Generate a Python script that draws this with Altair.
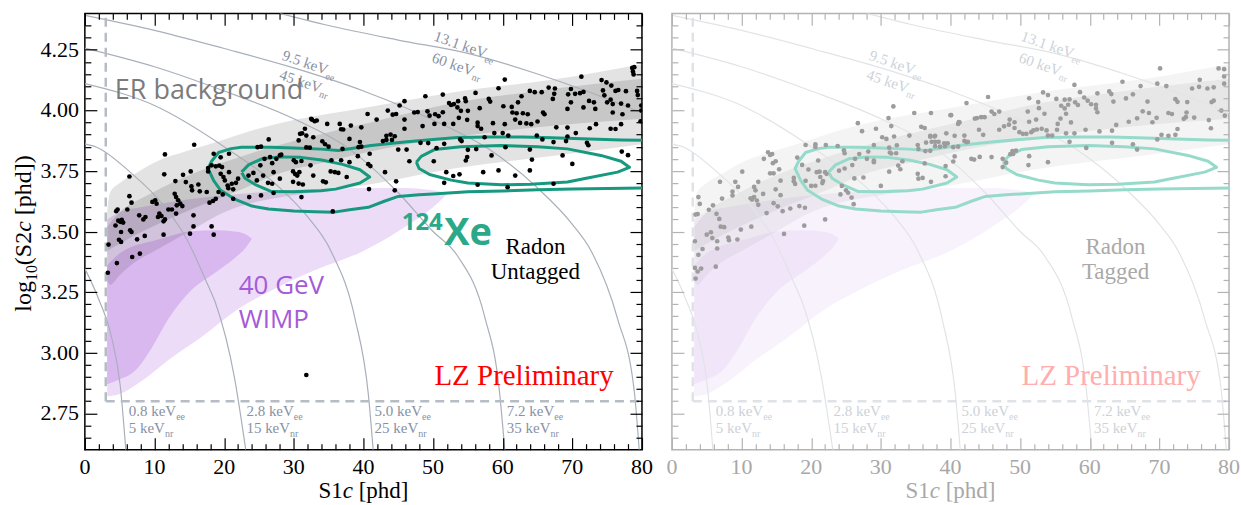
import altair as alt
import pandas as pd

SERIF = "Liberation Serif"
SANS = "Open Sans"
W, H = 558, 437

X_SCALE = alt.Scale(domain=[0, 80], nice=False, zero=False)
Y_SCALE = alt.Scale(domain=[2.6, 4.4], nice=False, zero=False)

X_MAJOR = [0, 10, 20, 30, 40, 50, 60, 70, 80]
X_MINOR = [v for v in range(2, 80, 2) if v % 10]
Y_MAJOR = [2.75, 3.0, 3.25, 3.5, 3.75, 4.0, 4.25]
Y_MINOR = [round(2.6 + 0.05 * i, 2) for i in range(1, 36)]
Y_MINOR = [v for v in Y_MINOR if v not in Y_MAJOR]

# (S1c [phd], log10 S2c [phd]) of events without a radon tag
UNTAGGED_EVENTS = [
    (15.7, 3.858), (11.5, 3.818), (26.4, 3.880), (24.8, 3.848), (25.3, 3.850), (11.4, 3.736),
    (6.4, 3.727), (14.1, 3.734), (15.2, 3.748), (13.0, 3.708), (14.5, 3.704), (15.3, 3.686),
    (16.3, 3.694), (15.4, 3.670), (16.5, 3.666), (17.5, 3.663), (12.9, 3.656), (13.1, 3.642),
    (17.7, 3.762), (18.2, 3.773), (18.8, 3.769), (19.3, 3.772), (19.7, 3.766), (18.5, 3.821),
    (19.5, 3.806), (20.7, 3.821), (17.7, 3.748), (19.5, 3.738), (19.9, 3.725), (20.7, 3.745),
    (20.1, 3.711), (20.5, 3.690), (21.1, 3.697), (21.7, 3.701), (22.0, 3.718), (21.3, 3.674),
    (20.6, 3.679), (19.2, 3.663), (19.8, 3.653), (18.8, 3.635), (18.4, 3.626), (17.9, 3.619),
    (21.3, 3.635), (23.6, 3.642), (25.3, 3.649), (27.1, 3.659), (23.5, 3.731), (24.2, 3.742),
    (24.7, 3.711), (25.6, 3.731), (26.3, 3.701), (26.9, 3.697), (26.6, 3.807), (25.2, 3.773),
    (25.8, 3.800), (26.9, 3.782), (28.0, 3.814), (10.1, 3.629), (10.3, 3.615), (9.7, 3.622),
    (13.2, 3.608), (13.4, 3.629), (13.7, 3.615), (14.0, 3.605), (12.0, 3.591), (12.5, 3.591),
    (13.1, 3.574), (10.7, 3.574), (11.0, 3.564), (11.5, 3.550), (11.3, 3.542), (10.5, 3.560),
    (7.8, 3.567), (8.4, 3.550), (8.7, 3.560), (6.4, 3.646), (6.7, 3.619), (6.1, 3.591),
    (4.7, 3.591), (4.5, 3.584), (4.8, 3.545), (5.3, 3.548), (5.5, 3.537), (5.1, 3.540),
    (4.4, 3.525), (6.5, 3.505), (6.7, 3.498), (5.2, 3.498), (4.9, 3.466), (5.2, 3.457),
    (7.5, 3.468), (8.6, 3.482), (3.4, 3.446), (11.3, 3.487), (15.1, 3.491), (15.6, 3.521),
    (15.6, 3.567), (18.2, 3.521), (18.5, 3.487), (7.9, 3.409), (6.8, 3.395), (4.6, 3.370),
    (3.3, 3.330), (31.8, 2.908), (32.5, 3.965), (33.3, 3.958), (30.9, 3.903),
    (48.9, 4.058), (51.4, 4.065), (45.9, 4.038), (45.2, 4.020), (40.6, 3.985), (43.5, 3.999),
    (44.2, 3.982), (44.7, 3.985), (47.3, 3.991), (47.8, 3.993), (49.2, 3.996), (49.5, 3.978),
    (50.3, 3.984), (50.8, 3.976), (51.4, 3.992), (52.3, 4.030), (52.6, 4.022), (53.0, 4.026),
    (32.6, 3.962), (33.0, 3.955), (34.8, 3.944), (36.6, 3.944), (38.2, 3.937), (36.8, 3.922),
    (37.1, 3.921), (39.7, 3.930), (41.9, 3.962), (45.9, 3.962), (45.9, 3.924), (48.5, 3.935),
    (50.2, 3.944), (51.6, 3.944), (52.9, 3.944), (31.6, 3.924), (31.2, 3.905), (31.8, 3.896),
    (32.8, 3.889), (30.7, 3.876), (31.8, 3.847), (32.3, 3.846), (34.1, 3.872), (34.5, 3.860),
    (35.0, 3.850), (38.0, 3.882), (39.5, 3.869), (39.7, 3.850), (37.0, 3.841), (39.3, 3.848),
    (43.3, 3.895), (43.9, 3.900), (44.5, 3.893), (42.8, 3.873), (43.3, 3.878), (44.1, 3.878),
    (45.0, 3.838), (46.2, 3.838), (48.2, 3.866), (49.3, 3.865), (50.5, 3.844), (51.6, 3.862),
    (40.9, 3.821), (39.2, 3.811), (36.8, 3.794), (35.4, 3.794), (46.6, 3.790), (50.1, 3.790),
    (28.2, 3.817), (27.5, 3.800), (30.0, 3.794), (30.3, 3.786), (31.1, 3.791), (32.4, 3.773),
    (32.8, 3.731), (29.9, 3.748), (30.2, 3.737), (30.5, 3.731), (30.8, 3.745), (29.9, 3.705),
    (30.7, 3.698), (31.3, 3.694), (34.2, 3.707), (34.6, 3.703), (35.3, 3.748), (35.9, 3.745),
    (36.4, 3.742), (37.6, 3.725), (38.0, 3.786), (40.7, 3.778), (41.0, 3.770), (43.1, 3.745),
    (44.7, 3.707), (44.5, 3.670), (40.8, 3.675), (31.1, 3.642), (28.0, 3.718), (27.1, 3.745),
    (51.9, 3.745), (51.6, 3.701), (52.9, 3.729), (35.6, 3.583),
    (60.3, 4.127), (71.3, 4.139), (59.4, 4.091), (56.1, 4.072), (74.2, 4.125), (74.9, 4.115),
    (75.6, 4.102), (78.6, 4.175), (78.8, 4.148), (63.9, 4.080), (64.6, 4.075), (65.6, 4.075),
    (66.6, 4.094), (67.5, 4.090), (69.8, 4.088), (67.4, 4.068), (69.4, 4.066), (70.4, 4.068),
    (71.1, 4.071), (71.6, 4.076), (74.4, 4.082), (74.6, 4.062), (76.2, 4.080), (76.6, 4.084),
    (77.7, 4.079), (79.3, 4.080), (79.4, 4.063), (53.6, 4.038), (54.6, 4.049), (54.7, 4.038),
    (58.0, 4.047), (58.2, 4.036), (62.7, 4.058), (67.2, 4.047), (69.8, 4.033), (72.4, 4.039),
    (73.1, 4.033), (75.0, 4.033), (75.5, 4.044), (75.8, 4.026), (77.0, 4.028), (78.0, 4.020),
    (53.5, 4.012), (54.0, 3.998), (55.0, 3.998), (56.7, 4.009), (60.1, 4.017), (61.3, 4.014),
    (62.2, 4.033), (61.4, 3.991), (62.0, 3.988), (62.9, 3.988), (63.6, 3.984), (65.8, 3.991),
    (66.0, 3.984), (69.3, 4.006), (71.6, 4.012), (73.3, 4.006), (75.8, 3.991), (77.2, 3.984),
    (54.9, 3.961), (53.7, 3.969), (56.4, 3.949), (58.6, 3.947), (61.8, 3.962), (62.5, 3.948),
    (63.4, 3.946), (64.1, 3.943), (65.0, 3.954), (67.7, 3.930), (69.3, 3.929), (70.5, 3.906),
    (72.5, 3.926), (73.4, 3.943), (75.5, 3.924), (76.2, 3.923), (77.0, 3.943), (79.8, 3.955),
    (79.9, 3.999), (56.4, 3.935), (56.9, 3.924), (58.8, 3.906), (60.0, 3.906), (60.3, 3.943),
    (60.8, 3.896), (53.9, 3.880), (54.1, 3.873), (57.4, 3.889), (64.9, 3.896), (65.7, 3.880),
    (67.3, 3.869), (69.1, 3.873), (69.3, 3.892), (72.1, 3.866), (72.3, 3.856), (55.0, 3.837),
    (56.2, 3.840), (60.4, 3.848), (63.9, 3.838), (54.9, 3.807), (54.7, 3.793), (58.4, 3.814),
    (64.2, 3.797), (68.6, 3.814), (70.0, 3.779), (77.1, 3.830), (78.0, 3.815), (53.8, 3.736),
    (57.2, 3.745), (59.4, 3.752), (61.8, 3.731), (63.9, 3.752), (56.4, 3.693), (60.7, 3.683),
    (67.3, 3.697), (78.9, 4.178), (78.7, 4.160), (79.9, 4.020),
]

# events tagged as radon-chain decays
TAGGED_EVENTS = [
    (31.8, 4.016), (34.8, 3.989), (37.2, 3.989), (40.0, 3.980), (41.3, 3.950), (31.1, 3.968),
    (26.7, 3.947), (27.3, 3.914), (29.3, 3.924), (31.5, 3.935), (35.8, 3.932), (36.3, 3.927),
    (30.2, 3.889), (30.8, 3.882), (31.9, 3.892), (34.1, 3.896), (37.1, 3.891), (37.7, 3.892),
    (39.4, 3.905), (40.6, 3.895), (19.2, 3.857), (20.6, 3.860), (20.6, 3.849), (22.1, 3.857),
    (23.8, 3.853), (24.7, 3.835), (24.8, 3.823), (29.0, 3.857), (31.2, 3.846), (32.3, 3.856),
    (35.3, 3.857), (36.5, 3.867), (37.8, 3.852), (38.5, 3.850), (39.2, 3.852), (31.3, 3.826),
    (31.5, 3.822), (32.2, 3.823), (35.4, 3.840), (36.4, 3.832), (37.1, 3.833), (40.4, 3.848),
    (26.9, 3.820), (28.2, 3.830), (26.3, 3.800), (28.0, 3.800), (29.0, 3.786), (29.0, 3.793),
    (25.9, 3.774), (24.8, 3.760), (24.0, 3.751), (21.0, 3.793), (19.6, 3.756), (18.7, 3.775),
    (18.0, 3.805), (20.8, 3.745), (21.2, 3.747), (22.2, 3.738), (22.0, 3.745), (21.3, 3.725),
    (21.7, 3.708), (21.6, 3.700), (20.6, 3.689), (20.0, 3.688), (19.2, 3.709), (17.7, 3.696),
    (17.5, 3.721), (27.5, 3.723), (26.2, 3.719), (31.2, 3.747), (30.0, 3.688), (32.5, 3.772),
    (32.8, 3.757), (33.1, 3.790), (36.3, 3.781), (35.3, 3.738), (35.4, 3.718), (36.0, 3.721),
    (37.2, 3.705), (39.3, 3.728), (40.4, 3.789), (24.4, 3.688), (25.0, 3.670), (25.3, 3.660),
    (24.2, 3.653), (25.8, 3.640), (26.1, 3.613), (13.8, 3.827), (14.4, 3.820), (14.1, 3.816),
    (13.2, 3.800), (14.5, 3.782), (14.9, 3.790), (15.4, 3.757), (14.1, 3.740), (14.6, 3.740),
    (10.1, 3.747), (12.4, 3.705), (15.6, 3.710), (17.5, 3.707), (9.1, 3.705), (8.7, 3.665),
    (9.5, 3.684), (11.8, 3.684), (12.0, 3.670), (11.3, 3.637), (11.5, 3.632), (11.8, 3.642),
    (12.2, 3.628), (12.4, 3.610), (13.1, 3.655), (14.9, 3.674), (15.6, 3.650), (14.6, 3.617),
    (15.2, 3.604), (15.9, 3.584), (17.0, 3.595), (18.3, 3.605), (19.1, 3.598), (13.6, 3.576),
    (8.7, 3.649), (7.2, 3.636), (6.9, 3.705), (3.8, 3.642), (4.0, 3.614), (5.3, 3.590),
    (5.9, 3.608), (6.4, 3.573), (6.8, 3.552), (7.0, 3.520), (7.5, 3.518), (3.4, 3.570),
    (3.7, 3.572), (11.4, 3.520), (5.0, 3.487), (5.6, 3.497), (5.8, 3.473), (6.5, 3.460),
    (6.5, 3.430), (8.1, 3.475), (8.2, 3.464), (9.4, 3.467), (9.9, 3.508), (3.3, 3.460),
    (4.4, 3.428), (3.8, 3.404), (3.3, 3.350), (16.1, 3.490), (19.0, 3.524), (22.0, 3.550),
    (3.4, 3.306), (3.7, 3.335), (4.2, 3.347), (6.3, 3.355),
    (70.1, 4.173), (78.5, 4.173), (79.3, 4.170), (79.3, 4.140), (75.8, 4.126), (69.7, 4.110),
    (71.0, 4.100), (74.7, 4.090), (75.7, 4.097), (76.9, 4.090), (77.8, 4.095), (79.3, 4.110),
    (57.8, 4.105), (58.6, 4.075), (64.7, 4.118), (67.3, 4.100), (62.8, 4.078), (63.1, 4.067),
    (61.1, 4.070), (53.3, 4.074), (54.0, 4.063), (51.3, 4.050), (52.6, 4.034), (55.2, 4.047),
    (56.4, 4.044), (57.1, 4.045), (57.9, 4.033), (59.2, 4.053), (59.7, 4.040), (60.2, 4.025),
    (60.9, 4.023), (63.4, 4.036), (65.2, 4.049), (66.2, 4.066), (68.3, 4.036), (72.3, 4.046),
    (72.6, 4.035), (74.0, 4.034), (77.8, 4.040), (77.5, 4.034), (78.9, 3.999), (79.4, 3.978),
    (42.3, 4.030), (45.4, 4.055), (45.9, 3.995), (46.3, 3.985), (47.0, 3.995), (51.1, 3.995),
    (52.7, 4.009), (55.9, 4.019), (56.4, 4.008), (56.9, 4.023), (58.3, 4.022), (60.9, 4.008),
    (61.1, 3.992), (67.6, 3.996), (68.5, 3.989), (69.0, 3.951), (71.3, 3.989), (71.8, 3.985),
    (73.9, 3.991), (75.0, 3.970), (77.1, 3.960), (73.5, 3.965), (73.8, 3.972), (43.5, 3.966),
    (43.8, 3.968), (44.4, 3.972), (44.9, 3.972), (40.1, 3.980), (41.2, 3.952), (41.1, 3.944),
    (48.5, 3.962), (49.2, 3.951), (51.3, 3.953), (52.3, 3.962), (53.5, 3.986), (55.4, 3.944),
    (55.8, 3.966), (56.6, 3.986), (57.3, 3.950), (59.4, 3.920), (61.4, 3.913), (63.2, 3.916),
    (63.8, 3.940), (65.6, 3.953), (66.8, 3.967), (69.6, 3.969), (70.3, 3.899), (71.3, 3.895),
    (72.3, 3.899), (72.6, 3.923), (77.4, 3.926), (42.0, 3.896), (42.3, 3.869), (44.1, 3.920),
    (44.7, 3.899), (47.0, 3.920), (47.7, 3.934), (48.4, 3.941), (49.2, 3.927), (49.9, 3.910),
    (50.4, 3.903), (50.9, 3.903), (51.6, 3.910), (51.9, 3.917), (52.4, 3.921), (53.1, 3.924),
    (53.8, 3.917), (55.3, 3.920), (54.0, 3.896), (54.6, 3.896), (56.6, 3.905), (57.8, 3.905),
    (57.1, 3.870), (63.2, 3.866), (66.2, 3.860), (66.8, 3.838), (69.7, 3.880), (59.5, 3.845),
    (54.0, 3.786), (51.3, 3.811), (51.2, 3.774), (49.0, 3.820), (49.4, 3.834), (47.5, 3.800),
    (47.5, 3.766), (48.0, 3.784), (48.6, 3.819), (48.9, 3.832), (43.0, 3.800), (43.4, 3.797),
    (44.2, 3.808), (45.9, 3.807), (40.6, 3.810), (39.1, 3.864), (39.6, 3.864), (42.0, 3.874),
    (42.5, 3.870), (41.1, 3.850), (37.3, 3.870), (37.8, 3.870), (38.3, 3.870), (37.1, 3.895),
    (37.8, 3.895), (39.3, 3.770),
]

# ER background band (outer and inner regions)
ER_OUTER_S1 = [3.2, 3.6, 5, 7, 10, 15, 20, 25, 30, 40, 53, 68, 80]
ER_OUTER_LO = [3.30, 3.28, 3.32, 3.37, 3.42, 3.50, 3.58, 3.625, 3.65, 3.69, 3.76, 3.815, 3.86]
ER_OUTER_HI = [3.58, 3.66, 3.70, 3.735, 3.785, 3.835, 3.88, 3.925, 3.96, 4.01, 4.075, 4.13, 4.19]
ER_INNER_S1 = [3.2, 5, 9, 16, 23, 27, 35, 41, 53, 65, 80]
ER_INNER_LO = [3.42, 3.45, 3.51, 3.60, 3.68, 3.73, 3.79, 3.83, 3.89, 3.93, 3.965]
ER_INNER_HI = [3.52, 3.58, 3.65, 3.745, 3.815, 3.85, 3.91, 3.95, 4.03, 4.08, 4.13]

# 40 GeV WIMP signal region (outer and inner)
WIMP_OUTER_S1 = [3.2, 5, 8, 12, 17, 22, 27, 33, 40, 46, 50, 52]
WIMP_OUTER_LO = [2.82, 2.83, 2.88, 2.97, 3.07, 3.18, 3.26, 3.34, 3.42, 3.52, 3.60, 3.655]
WIMP_OUTER_HI = [3.55, 3.58, 3.60, 3.62, 3.64, 3.655, 3.665, 3.675, 3.68, 3.68, 3.67, 3.66]
WIMP_INNER_S1 = [3.2, 5, 7, 9.6, 12, 15, 18.7, 21.5, 23, 24]
WIMP_INNER_LO = [2.87, 2.89, 2.92, 3.02, 3.14, 3.25, 3.33, 3.39, 3.43, 3.47]
WIMP_INNER_HI = [3.36, 3.41, 3.44, 3.46, 3.48, 3.50, 3.505, 3.50, 3.49, 3.47]

# 124Xe double electron capture contours
XE_OUTER = [
    (81, 3.680), (75, 3.678), (70, 3.675), (65, 3.672), (60, 3.667), (55, 3.664), (50, 3.655),
    (48, 3.652), (45, 3.645), (43, 3.625), (40.7, 3.600), (38, 3.590), (35.8, 3.580),
    (33, 3.582), (30, 3.585), (26.4, 3.593), (24, 3.605), (21.5, 3.634), (19.5, 3.670),
    (18.5, 3.710), (17.7, 3.760), (18.2, 3.790), (19.2, 3.826), (21, 3.842), (22.5, 3.848),
    (26.8, 3.848), (30, 3.845), (34, 3.840), (36.4, 3.834), (41.1, 3.855), (45.9, 3.869),
    (50, 3.880), (53.5, 3.888), (58, 3.890), (62.9, 3.890), (67, 3.887), (72.5, 3.882),
    (77, 3.878), (81, 3.876),
]
XE_CORE_LOW = [
    (22.5, 3.745), (23.5, 3.775), (25.4, 3.800), (28, 3.808), (31, 3.806), (34, 3.795),
    (37, 3.777), (39.5, 3.755), (40.9, 3.725), (39.5, 3.700), (36, 3.675), (33.9, 3.668),
    (30, 3.664), (26.8, 3.665), (24.4, 3.695), (23, 3.720), (22.5, 3.745),
]
XE_CORE_HIGH = [
    (47.6, 3.786), (48.3, 3.810), (50.2, 3.838), (54, 3.850), (59.8, 3.855), (65, 3.850),
    (69.3, 3.841), (74.1, 3.814), (77, 3.790), (78.2, 3.765), (76.5, 3.745), (72, 3.720),
    (69.3, 3.704), (64, 3.695), (59.8, 3.693), (55, 3.700), (52.6, 3.712), (49.5, 3.735),
    (48, 3.760), (47.6, 3.786),
]

# lines of constant combined energy, keyed by keVee
ENERGY_LINES = {
    "0.8": [(0, 3.347), (1.96, 3.223), (3.87, 3.059), (5.07, 2.867), (5.88, 2.6)],
    "2.8": [(0, 3.862), (1.7, 3.848), (6.5, 3.745), (11.3, 3.608), (14.6, 3.470),
            (17.5, 3.290), (18.7, 3.210), (21.5, 2.894), (23.1, 2.6)],
    "5.0": [(0, 4.110), (10, 4.020), (20, 3.850), (28, 3.680), (32, 3.560), (35.4, 3.416),
            (38.8, 3.140), (40.7, 2.830), (41.4, 2.6)],
    "7.2": [(0, 4.257), (10, 4.180), (20, 4.080), (30, 3.965), (38, 3.840), (45, 3.660),
            (50, 3.500), (53.5, 3.400), (57.4, 3.150), (59.5, 2.850), (60.3, 2.6)],
    "9.5": [(0, 4.392), (10, 4.330), (20, 4.255), (30, 4.175), (40, 4.080), (50, 3.960),
            (58, 3.840), (65, 3.680), (70, 3.530), (72.7, 3.420), (76.5, 3.140),
            (78.9, 2.840), (79.6, 2.6)],
    "13.1": [(28, 4.40), (35, 4.350), (45, 4.290), (55, 4.235), (65, 4.150), (72, 4.080),
             (80, 3.990)],
}

# energy annotations: keVee, keVnr, anchor position(s)
BOTTOM_LABEL_S1 = [6.3, 23.2, 41.6, 60.6]
BOTTOM_LABEL_EE = ["0.8", "2.8", "5.0", "7.2"]
BOTTOM_LABEL_NR = ["5", "15", "25", "35"]
BOTTOM_LABEL_Y = [2.74, 2.67]
TOP_LABELS = [
    ("9.5", "45", (28.2, 4.21), (27.8, 4.13)),
    ("13.1", "60", (50.0, 4.289), (49.7, 4.20)),
]

THRESHOLD_S1 = 3.0
THRESHOLD_LOGS2 = 2.8

VIVID = dict(
    point="#000000", arc="#a9b0ba", etext="#8791a3", dash="#b6bcc4", xe="#16997f",
    xe_text="#2ba88a", wimp_text="#a55ad8", er_text="#7b7b7b",
    wimp_outer="#ecdcf8", wimp_inner="#d9b8f0", er_outer=0.11, er_inner=0.12,
    frame="#000000", label="#000000", radon="#000000", lz="#ff0000",
    radon_text=["Radon", "Untagged"], radon_s1=64.7,
)
FADED = dict(
    point="#9c9c9c", arc="#e1e4e7", etext="#cdd2da", dash="#dfe2e6", xe="#96dacb",
    xe_text=None, wimp_text=None, er_text=None,
    wimp_outer="#f8f2fc", wimp_inner="#f1e6f9", er_outer=0.045, er_inner=0.05,
    frame="#b3b3b3", label="#a8a8a8", radon="#a9a9a9", lz="#ffadad",
    radon_text=["Radon", "Tagged"], radon_s1=63.7,
)

EM = {
    "0": .5, "1": .5, "2": .5, "3": .5, "4": .5, "5": .5, "6": .5, "7": .5, "8": .5, "9": .5,
    ".": .25, " ": .25, "k": .5, "e": .444, "V": .722, "S": .556, "c": .444, "[": .333,
    "]": .333, "p": .5, "h": .5, "d": .5, "(": .333, ")": .333, "l": .278, "o": .5, "g": .5,
}


def text_width(s, size):
    return sum(EM.get(ch, 0.5) for ch in s) * size


def xq(field="x"):
    return alt.X(f"{field}:Q", scale=X_SCALE, axis=None)


def yq(field="y"):
    return alt.Y(f"{field}:Q", scale=Y_SCALE, axis=None)


def band(xs, lo, hi, color, opacity=1.0):
    df = pd.DataFrame({"x": xs, "lo": lo, "hi": hi})
    return alt.Chart(df).mark_area(
        color=color, opacity=opacity, clip=True, interpolate="monotone"
    ).encode(x=xq(), y=yq("lo"), y2=alt.Y2("hi:Q"))


def text_at(s1, logs2, text, size, color, font=SERIF, **kw):
    df = pd.DataFrame({"x": [s1], "y": [logs2], "t": [text]})
    kw.setdefault("align", "left")
    return alt.Chart(df).mark_text(
        font=font, fontSize=size, color=color, baseline="alphabetic", **kw
    ).encode(x=xq(), y=yq(), text="t:N")


def text_px(px, py, text, size, color, **kw):
    df = pd.DataFrame({"t": [text]})
    return alt.Chart(df).mark_text(
        font=SERIF, fontSize=size, color=color, align="left", baseline="alphabetic", **kw
    ).encode(x=alt.value(px), y=alt.value(py), text="t:N")


def tick_layer(channel, orient, values, size, pal):
    ax = alt.Axis(
        orient=orient, values=values, tickSize=size, offset=-size, domain=False, grid=False,
        labels=False, title=None, tickColor=pal["frame"], tickWidth=1.2, zindex=2,
    )
    df = pd.DataFrame({"x": [0.0], "y": [2.6]})
    if channel == "x":
        enc = dict(x=alt.X("x:Q", scale=X_SCALE, axis=ax), y=yq())
    else:
        enc = dict(x=xq(), y=alt.Y("y:Q", scale=Y_SCALE, axis=ax))
    return alt.Chart(df).mark_point(opacity=0).encode(**enc)


def tick_labels(pal, with_y):
    out = [
        alt.Chart(pd.DataFrame({"x": X_MAJOR, "t": [str(v) for v in X_MAJOR]}))
        .mark_text(font=SERIF, fontSize=22, color=pal["label"], align="center",
                   baseline="alphabetic")
        .encode(x=xq(), y=alt.value(H + 24), text="t:N")
    ]
    if with_y:
        out.append(
            alt.Chart(pd.DataFrame({"y": Y_MAJOR, "t": [f"{v:.2f}" for v in Y_MAJOR]}))
            .mark_text(font=SERIF, fontSize=22, color=pal["label"], align="right",
                       baseline="alphabetic", dy=7)
            .encode(x=alt.value(-6), y=yq(), text="t:N")
        )
    return out


def energy_label(s1, logs2, main, sub, pal, angle=0):
    head = main + " keV"
    return [
        text_at(s1, logs2, head, 15, pal["etext"], angle=angle),
        text_at(s1, logs2, sub, 10, pal["etext"], angle=angle,
                dx=text_width(head, 15), dy=4),
    ]


def make_panel(events, pal, with_y_labels):
    layers = [
        band(WIMP_OUTER_S1, WIMP_OUTER_LO, WIMP_OUTER_HI, pal["wimp_outer"]),
        band(WIMP_INNER_S1, WIMP_INNER_LO, WIMP_INNER_HI, pal["wimp_inner"]),
        band(ER_OUTER_S1, ER_OUTER_LO, ER_OUTER_HI, "#000000", pal["er_outer"]),
        band(ER_INNER_S1, ER_INNER_LO, ER_INNER_HI, "#000000", pal["er_inner"]),
    ]

    arc_rows = [
        {"arc": name, "k": k, "x": x, "y": y}
        for name, pts in ENERGY_LINES.items()
        for k, (x, y) in enumerate(pts)
    ]
    layers.append(
        alt.Chart(pd.DataFrame(arc_rows)).mark_line(
            color=pal["arc"], strokeWidth=1.2, clip=True, interpolate="monotone"
        ).encode(x=xq(), y=yq(), detail="arc:N", order="k:Q")
    )

    dash_kw = dict(color=pal["dash"], strokeWidth=2.5, strokeDash=[9, 6], clip=True)
    layers.append(
        alt.Chart(pd.DataFrame({"x": [THRESHOLD_S1], "y": [THRESHOLD_LOGS2], "y2": [4.4]}))
        .mark_rule(**dash_kw).encode(x=xq(), y=yq(), y2="y2:Q")
    )
    layers.append(
        alt.Chart(pd.DataFrame({"x": [THRESHOLD_S1], "x2": [80.0], "y": [THRESHOLD_LOGS2]}))
        .mark_rule(**dash_kw).encode(x=xq(), x2="x2:Q", y=yq())
    )

    xe_rows = [
        {"c": cid, "k": k, "x": x, "y": y}
        for cid, pts in (("outer", XE_OUTER), ("low", XE_CORE_LOW), ("high", XE_CORE_HIGH))
        for k, (x, y) in enumerate(pts)
    ]
    layers.append(
        alt.Chart(pd.DataFrame(xe_rows)).mark_line(
            color=pal["xe"], strokeWidth=3, clip=True, strokeJoin="round"
        ).encode(x=xq(), y=yq(), detail="c:N", order="k:Q")
    )

    ev = pd.DataFrame(events, columns=["x", "y"])
    layers.append(
        alt.Chart(ev).mark_circle(size=22, color=pal["point"], opacity=1, clip=True)
        .encode(x=xq(), y=yq())
    )

    # energy annotations
    for s1, ee, nr in zip(BOTTOM_LABEL_S1, BOTTOM_LABEL_EE, BOTTOM_LABEL_NR):
        layers += energy_label(s1, BOTTOM_LABEL_Y[0], ee, "ee", pal)
        layers += energy_label(s1, BOTTOM_LABEL_Y[1], nr, "nr", pal)
    for ee, nr, p1, p2 in TOP_LABELS:
        layers += energy_label(p1[0], p1[1], ee, "ee", pal, angle=19)
        layers += energy_label(p2[0], p2[1], nr, "nr", pal, angle=19)

    # annotations
    if pal["er_text"]:
        layers.append(text_at(4.3, 4.047, "ER background", 27, pal["er_text"], font=SANS))
    if pal["wimp_text"]:
        layers.append(text_at(22.1, 3.243, "40 GeV", 26, pal["wimp_text"], font=SANS))
        layers.append(text_at(22.1, 3.103, "WIMP", 26, pal["wimp_text"], font=SANS))
    if pal["xe_text"]:
        layers.append(text_at(45.5, 3.506, "124", 24, pal["xe_text"], font=SANS,
                              fontWeight="bold"))
        layers.append(text_at(51.6, 3.444, "Xe", 38, pal["xe_text"], font=SANS,
                              fontWeight="bold"))
    layers.append(text_at(pal["radon_s1"], 3.407, pal["radon_text"][0], 23, pal["radon"],
                          align="center"))
    layers.append(text_at(pal["radon_s1"], 3.304, pal["radon_text"][1], 23, pal["radon"],
                          align="center"))
    layers.append(text_at(50.2, 2.868, "LZ Preliminary", 29, pal["lz"]))

    # axis title: S1c [phd]
    ts = 23
    x0 = W / 2 - text_width("S1c [phd]", ts) / 2
    layers.append(text_px(x0, H + 48, "S1", ts, pal["label"]))
    layers.append(text_px(x0 + text_width("S1", ts), H + 48, "c", ts, pal["label"],
                          fontStyle="italic"))
    layers.append(text_px(x0 + text_width("S1c ", ts), H + 48, "[phd]", ts, pal["label"]))

    if with_y_labels:
        ys = 24
        parts = [("log", ys, 0, "normal"), ("10", 16, 6, "normal"), ("(S2", ys, 0, "normal"),
                 ("c", ys, 0, "italic"), (" [phd])", ys, 0, "normal")]
        total = sum(text_width(p, s) for p, s, _, _ in parts)
        start = H / 2 + 2 + total / 2
        offset = 0.0
        for piece, size, shift, style in parts:
            shown = piece.strip()
            lead = text_width(piece, size) - text_width(shown, size)
            layers.append(text_px(-54, start, shown, size, pal["label"], angle=270,
                                  dx=offset + lead, dy=shift, fontStyle=style))
            offset += text_width(piece, size)

    layers += tick_labels(pal, with_y_labels)

    # framed axes with inward ticks on all four sides
    layers += [
        tick_layer("x", "bottom", X_MAJOR, 12, pal),
        tick_layer("x", "bottom", X_MINOR, 6, pal),
        tick_layer("x", "top", X_MAJOR, 12, pal),
        tick_layer("x", "top", X_MINOR, 6, pal),
        tick_layer("y", "left", Y_MAJOR, 12, pal),
        tick_layer("y", "left", Y_MINOR, 6, pal),
        tick_layer("y", "right", Y_MAJOR, 12, pal),
        tick_layer("y", "right", Y_MINOR, 6, pal),
    ]

    return alt.layer(*layers).resolve_axis(x="independent", y="independent").properties(
        width=W, height=H, view=alt.ViewBackground(stroke=pal["frame"], strokeWidth=1.5)
    )


left = make_panel(UNTAGGED_EVENTS, VIVID, True)
right = make_panel(TAGGED_EVENTS, FADED, False)

chart = alt.hconcat(left, right, spacing=30, bounds="flush").properties(
    padding={"left": 11, "top": 11, "right": 0, "bottom": 0}
).configure_view(fill="white")

chart.save("out.html", embed_options={"renderer": "svg", "actions": False})
